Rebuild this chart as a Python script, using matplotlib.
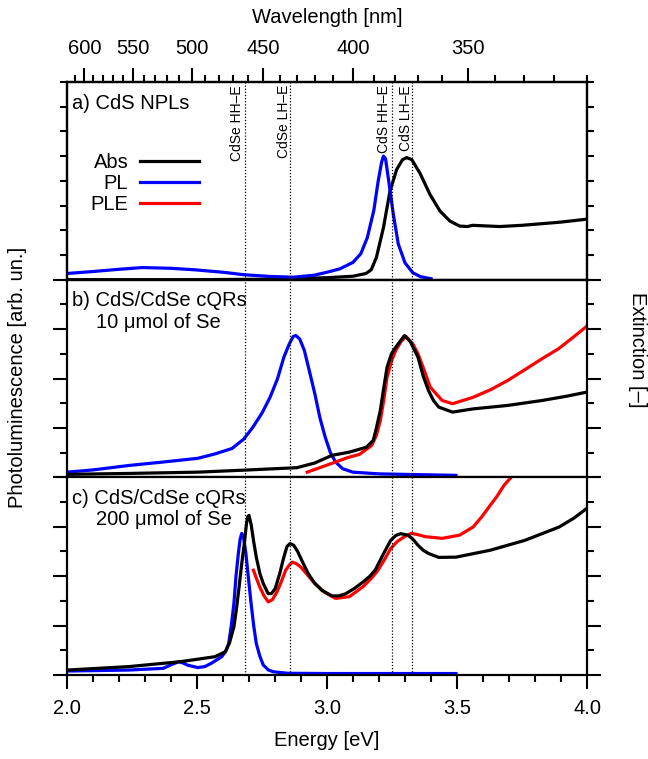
import matplotlib
matplotlib.use("Agg")
import matplotlib.pyplot as plt
import numpy as np
from matplotlib.ticker import MultipleLocator, NullFormatter

plt.rcParams['font.family'] = ['Liberation Sans', 'DejaVu Sans']

# ---- data (energy in eV, signal in panel units 0..8) ----
# a) CdS NPLs
a_pl_E = [2.00, 2.10, 2.20, 2.29, 2.40, 2.49, 2.60, 2.68, 2.78, 2.87, 2.95, 3.00, 3.05,
          3.10, 3.13, 3.155, 3.18, 3.197, 3.21, 3.217, 3.225, 3.236, 3.255, 3.274, 3.30,
          3.33, 3.36, 3.40]
a_pl_y = [0.25, 0.33, 0.42, 0.49, 0.46, 0.40, 0.30, 0.20, 0.13, 0.10, 0.18, 0.30, 0.44,
          0.70, 1.05, 1.70, 2.80, 4.00, 4.75, 5.00, 4.90, 4.10, 2.65, 1.45, 0.68,
          0.28, 0.12, 0.04]
a_abs_E = [2.00, 2.50, 2.80, 2.90, 3.00, 3.10, 3.15, 3.17, 3.19, 3.217, 3.242, 3.268, 3.29,
           3.306, 3.326, 3.358, 3.396, 3.435, 3.473, 3.51, 3.54, 3.56, 3.60, 3.665, 3.75,
           3.82, 3.90, 4.00]
a_abs_y = [0.00, 0.00, 0.02, 0.05, 0.08, 0.14, 0.25, 0.40, 0.90, 2.10, 3.57, 4.46, 4.85,
           4.94, 4.86, 4.30, 3.45, 2.77, 2.37, 2.17, 2.15, 2.20, 2.18, 2.15, 2.20,
           2.26, 2.33, 2.45]

# b) CdS/CdSe cQRs, 10 umol Se
b_pl_E = [2.00, 2.10, 2.238, 2.37, 2.503, 2.57, 2.635, 2.68, 2.715, 2.75, 2.781, 2.81,
          2.834, 2.855, 2.87, 2.88, 2.895, 2.913, 2.93, 2.953, 2.973, 2.993, 3.013, 3.033,
          3.06, 3.099, 3.20, 3.298, 3.496]
b_pl_y = [0.21, 0.30, 0.48, 0.62, 0.77, 0.95, 1.17, 1.55, 2.03, 2.60, 3.24, 4.00,
          4.86, 5.40, 5.70, 5.74, 5.60, 5.13, 4.40, 3.39, 2.40, 1.63, 1.00, 0.62,
          0.35, 0.21, 0.14, 0.12, 0.08]
b_abs_E = [2.00, 2.25, 2.503, 2.70, 2.884, 2.953, 3.019, 3.086, 3.152, 3.178, 3.19, 3.205,
           3.218, 3.231, 3.248, 3.264, 3.298, 3.32, 3.35, 3.37, 3.39, 3.41, 3.43, 3.483,
           3.562, 3.695, 3.827, 3.92, 4.00]
b_abs_y = [0.12, 0.16, 0.21, 0.30, 0.39, 0.58, 0.89, 1.02, 1.22, 1.50, 2.00, 2.70,
           3.60, 4.46, 5.00, 5.26, 5.74, 5.50, 4.86, 4.10, 3.52, 3.10, 2.84, 2.64,
           2.77, 2.91, 3.11, 3.28, 3.45]
b_ple_E = [2.924, 2.98, 3.033, 3.08, 3.125, 3.172, 3.19, 3.205, 3.218, 3.231, 3.248, 3.264,
           3.285, 3.304, 3.33, 3.35, 3.375, 3.397, 3.443, 3.483, 3.562, 3.63, 3.695,
           3.76, 3.827, 3.89, 3.947, 4.00]
b_ple_y = [0.21, 0.42, 0.62, 0.80, 0.93, 1.29, 1.70, 2.30, 3.10, 4.05, 4.70, 5.13,
           5.50, 5.70, 5.40, 5.00, 4.30, 3.65, 3.11, 2.98, 3.24, 3.55, 3.92,
           4.35, 4.80, 5.20, 5.67, 6.12]

# c) CdS/CdSe cQRs, 200 umol Se
c_abs_E = [2.00, 2.238, 2.437, 2.569, 2.609, 2.625, 2.642, 2.652, 2.662, 2.672, 2.682,
           2.690, 2.695, 2.700, 2.708, 2.718, 2.728, 2.742, 2.755, 2.774, 2.787, 2.801,
           2.818, 2.834, 2.846, 2.858, 2.872, 2.887, 2.907, 2.927, 2.95, 2.98, 3.019,
           3.045, 3.072, 3.105, 3.138, 3.165, 3.185, 3.20, 3.218, 3.245, 3.265, 3.284,
           3.311, 3.33, 3.35, 3.37, 3.39, 3.43, 3.496, 3.628, 3.761, 3.893, 3.95, 4.00]
c_abs_y = [0.20, 0.34, 0.54, 0.74, 0.94, 1.30, 1.95, 2.70, 3.57, 4.50, 5.32,
           6.10, 6.40, 6.46, 6.10, 5.40, 4.77, 4.10, 3.70, 3.29, 3.30, 3.50,
           4.10, 4.77, 5.20, 5.32, 5.25, 5.00, 4.55, 4.12, 3.75, 3.43, 3.20,
           3.20, 3.29, 3.50, 3.76, 4.00, 4.24, 4.55, 4.92, 5.45, 5.65, 5.72,
           5.66, 5.50, 5.25, 5.05, 4.92, 4.76, 4.77, 5.05, 5.45, 5.99, 6.35, 6.75]
c_pl_E = [2.00, 2.238, 2.37, 2.397, 2.43, 2.45, 2.463, 2.503, 2.53, 2.556, 2.595, 2.61,
          2.622, 2.632, 2.642, 2.65, 2.659, 2.666, 2.672, 2.68, 2.688, 2.698, 2.708,
          2.718, 2.728, 2.742, 2.755, 2.775, 2.794, 2.85, 3.00, 3.496]
c_pl_y = [0.16, 0.20, 0.27, 0.40, 0.54, 0.47, 0.40, 0.30, 0.34, 0.48, 0.74, 0.95,
          1.28, 2.00, 2.90, 4.00, 4.92, 5.50, 5.73, 5.50, 4.92, 3.90, 2.90,
          2.00, 1.28, 0.75, 0.40, 0.20, 0.13, 0.07, 0.06, 0.06]
c_ple_E = [2.717, 2.729, 2.741, 2.758, 2.774, 2.79, 2.808, 2.825, 2.841, 2.855, 2.867,
           2.883, 2.90, 2.925, 2.953, 2.99, 3.033, 3.086, 3.138, 3.165, 3.192, 3.22,
           3.245, 3.27, 3.298, 3.324, 3.35, 3.377, 3.443, 3.51, 3.562, 3.595, 3.628,
           3.655, 3.681, 3.708, 3.73]
c_ple_y = [4.24, 3.90, 3.57, 3.20, 2.96, 3.05, 3.37, 3.80, 4.24, 4.45, 4.57,
           4.50, 4.36, 4.05, 3.70, 3.35, 3.10, 3.17, 3.57, 3.85, 4.18, 4.65,
           5.12, 5.40, 5.60, 5.73, 5.68, 5.60, 5.53, 5.66, 5.99, 6.40, 6.87,
           7.25, 7.68, 8.00, 8.30]

# marker energies for the dotted lines
line_E = [2.685, 2.858, 3.249, 3.326]
line_lbl = ['CdSe HH\u2013E', 'CdSe LH\u2013E', 'CdS HH\u2013E', 'CdS LH\u2013E']
line_side = ['left', 'right', 'left', 'right']

wl_major = [600, 550, 500, 450, 400, 350]
wl_minor = list(range(610, 300, -10))

panel_title = ['a) CdS NPLs', 'b) CdS/CdSe cQRs', 'c) CdS/CdSe cQRs']
panel_sub = [None, '10 \u03bcmol of Se', '200 \u03bcmol of Se']

black, blue, red = '#000000', '#0000ff', '#ff0000'
lw = 2.3
fs = 14.5

fig = plt.figure(figsize=(6.48, 7.59), dpi=100)
gs = fig.add_gridspec(3, 1, left=67/648, right=587/648, top=1-82/759,
                      bottom=1-675/759, hspace=0)
axes = [fig.add_subplot(gs[i]) for i in range(3)]

panels = [
    [(a_abs_E, a_abs_y, black, 'Abs'), (a_pl_E, a_pl_y, blue, 'PL')],
    [(b_pl_E, b_pl_y, blue, None), (b_ple_E, b_ple_y, red, None), (b_abs_E, b_abs_y, black, None)],
    [(c_pl_E, c_pl_y, blue, None), (c_ple_E, c_ple_y, red, None), (c_abs_E, c_abs_y, black, None)],
]

for i, ax in enumerate(axes):
    for E, y, col, lab in panels[i]:
        ax.plot(E, y, color=col, lw=lw, label=lab, solid_joinstyle='round')
    for e in line_E:
        ax.axvline(e, color='black', lw=0.9, ls=(0, (1, 1.5)))
    ax.set_xlim(2.0, 4.0)
    ax.set_ylim(0, 8)
    ax.yaxis.set_major_locator(MultipleLocator(2))
    ax.yaxis.set_minor_locator(MultipleLocator(1))
    ax.tick_params(axis='y', which='both', direction='out', left=True, right=True,
                   labelleft=False, labelright=False, width=1.5)
    ax.tick_params(axis='y', which='major', length=10)
    ax.tick_params(axis='y', which='minor', length=5)
    for sp in ax.spines.values():
        sp.set_linewidth(1.6)
    ax.text(0.01, 0.893, panel_title[i], transform=ax.transAxes, fontsize=fs,
            ha='left', va='center')
    if panel_sub[i]:
        ax.text(0.056, 0.785, panel_sub[i], transform=ax.transAxes, fontsize=fs,
                ha='left', va='center')
    if i < 2:
        ax.tick_params(axis='x', which='both', bottom=False, top=False,
                       labelbottom=False)

# legend in panel a
axes[0].plot([], [], color=red, lw=lw, label='PLE')
axes[0].legend(loc='upper left', bbox_to_anchor=(0.045, 0.64), frameon=False,
               fontsize=fs, markerfirst=False, handlelength=2.9, handletextpad=0.6,
               labelspacing=0.1, borderpad=0, borderaxespad=0)

# vertical labels for the dotted lines
for e, lbl, side in zip(line_E, line_lbl, line_side):
    dx = -0.004 if side == 'left' else 0.004
    axes[0].text(e + dx, 0.985, lbl, transform=axes[0].get_xaxis_transform(),
                 rotation=90, ha=side if side == 'right' else 'right',
                 va='top', fontsize=10)

# bottom axis
axc = axes[2]
axc.xaxis.set_major_locator(MultipleLocator(0.5))
axc.xaxis.set_minor_locator(MultipleLocator(0.1))
axc.tick_params(axis='x', which='both', direction='out', top=False, width=1.5,
                labelsize=fs, pad=7)
axc.tick_params(axis='x', which='major', length=10)
axc.tick_params(axis='x', which='minor', length=5)
axc.xaxis.set_major_formatter(matplotlib.ticker.FormatStrFormatter('%.1f'))
axc.set_xlabel('Energy [eV]', fontsize=fs, labelpad=10)

# top wavelength axis
axt = axes[0].twiny()
axt.set_xlim(2.0, 4.0)
axt.set_xticks([1239.84 / w for w in wl_major])
axt.set_xticklabels([str(w) for w in wl_major])
axt.set_xticks([1239.84 / w for w in wl_minor if w not in wl_major], minor=True)
axt.xaxis.set_minor_formatter(NullFormatter())
axt.tick_params(axis='x', which='both', direction='out', width=1.5, labelsize=fs, pad=7)
axt.tick_params(axis='x', which='major', length=10)
axt.tick_params(axis='x', which='minor', length=5)
axt.set_xlabel('Wavelength [nm]', fontsize=fs, labelpad=12)
axt.set_yticks([])
for sp in axt.spines.values():
    sp.set_linewidth(1.6)

fig.text(18/648, 1-377/759, 'Photoluminescence [arb. un.]', rotation=90,
         ha='center', va='center', fontsize=fs)
fig.text(637/648, 1-350/759, 'Extinction [\u2013]', rotation=270,
         ha='center', va='center', fontsize=fs)

fig.savefig('out.png', dpi=100)
